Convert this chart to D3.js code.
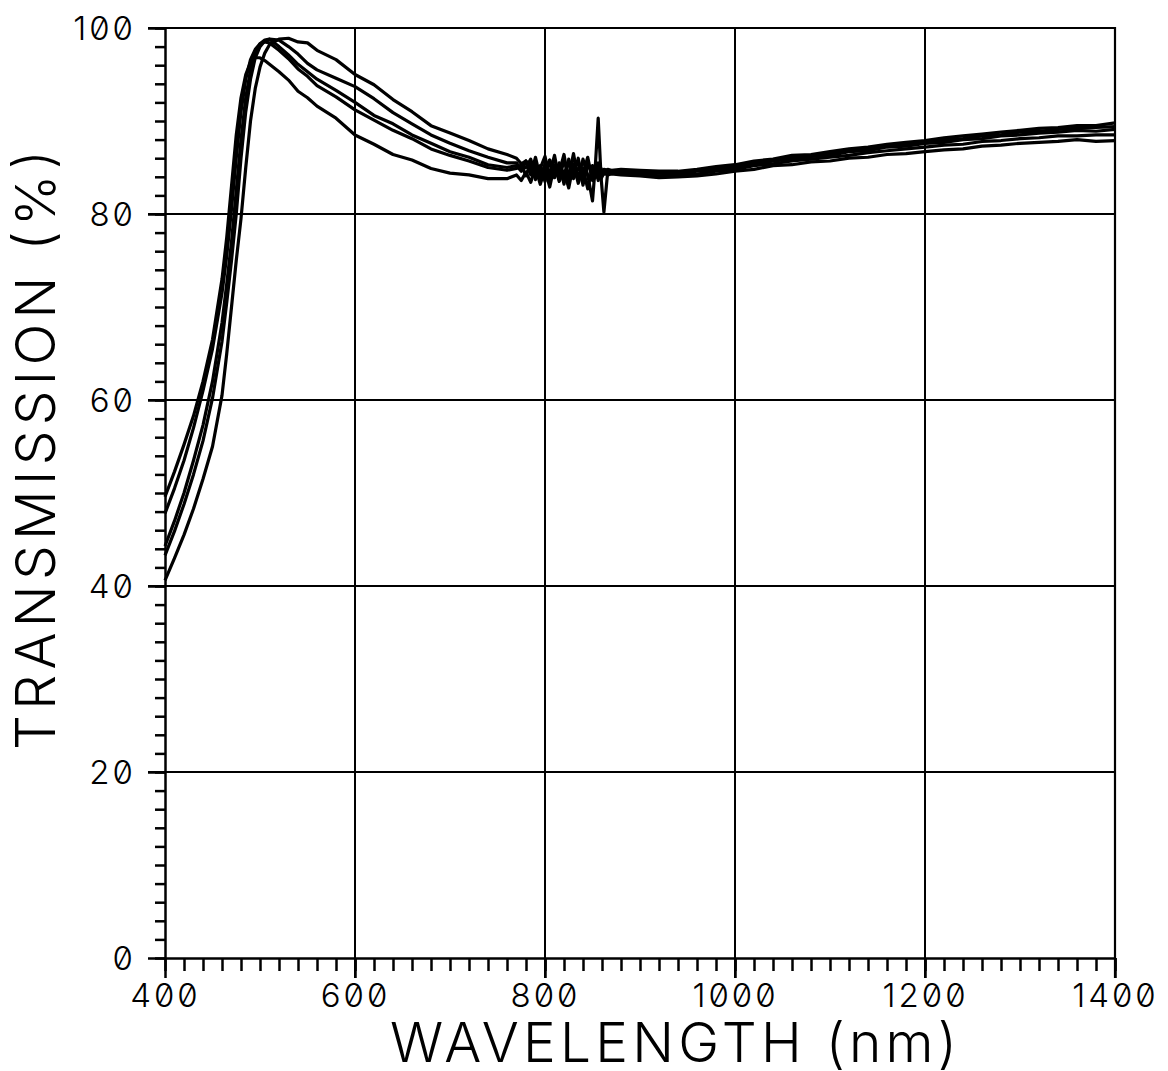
<!DOCTYPE html>
<html>
<head>
<meta charset="utf-8">
<script src="https://cdn.jsdelivr.net/npm/d3@7"></script>
<style>
  body { margin: 0; background: #fff; }
  svg { display: block; }
  .lbl { font-family: Inter, "DejaVu Sans", sans-serif; font-weight: 300; font-feature-settings: "zero" 1; fill: #000; }
</style>
</head>
<body>
<div id="chart"></div>
<script>
// wavelengths (nm), shared by all five spectra
var wavelength = [400,410,420,430,440,450,460,465,470,475,480,485,490,495,500,505,510,520,530,540,550,560,
  580,600,620,640,660,680,700,720,740,760,770,775,780,785,790,795,800,805,810,815,820,825,830,835,840,845,850,
  853,856,859,862,866,870,880,900,920,940,960,980,1000,1020,1040,1060,1080,1100,1120,1140,1160,1180,1200,
  1220,1240,1260,1280,1300,1320,1340,1360,1380,1400];

// transmission (%) of each sample
var seriesA = [49.6,52.3,55.2,58.3,62.0,66.5,73.0,77.5,83.0,88.5,92.5,95.0,96.3,96.8,96.8,96.5,96.1,95.3,94.4,93.2,92.5,91.6,
  90.3,88.5,87.5,86.4,85.8,84.9,84.4,84.2,83.8,83.8,
  84.2,83.6,84.5,83.4,85.0,83.2,84.8,82.9,85.3,83.5,84.6,82.8,85.4,83.3,84.9,82.7,85.2,84.0,85.1,83.8,84.4,84.2,84.3,
  84.2,84.1,83.9,84.0,84.1,84.3,84.6,84.8,85.2,85.3,85.6,85.7,86.0,86.1,86.4,86.5,86.7,86.9,87.0,87.3,87.4,87.6,87.7,87.8,88.0,87.8,87.9];
var seriesB = [47.8,50.5,53.5,57.0,61.0,65.5,71.5,75.5,80.5,86.0,91.0,94.5,96.6,97.7,98.3,98.5,98.4,97.6,96.7,95.6,94.8,93.8,
  92.6,91.2,90.1,89.0,88.1,87.0,86.3,85.7,85.0,84.7,
  84.9,85.3,84.1,85.6,83.7,85.2,83.5,85.8,83.9,85.5,83.2,85.9,84.1,86.0,83.4,85.6,83.9,85.3,83.6,84.9,84.3,84.6,84.4,
  84.4,84.3,84.1,84.2,84.3,84.6,84.8,85.2,85.4,85.7,85.9,86.1,86.3,86.6,86.8,87.0,87.2,87.4,87.5,87.8,87.9,88.1,88.2,88.4,88.4,88.5,88.5];
var seriesC = [44.3,47.0,50.0,53.5,57.3,62.0,68.3,72.5,77.0,82.5,88.0,92.5,95.5,97.3,98.3,98.7,98.8,98.0,97.1,96.1,95.3,94.5,
  93.3,92.0,90.6,89.7,88.5,87.6,86.7,86.1,85.3,85.0,
  85.2,84.6,85.7,84.2,86.1,83.9,85.4,84.3,86.3,83.7,85.8,84.0,86.5,83.6,85.9,84.2,81.4,85.2,90.3,84.0,80.2,84.5,84.6,
  84.6,84.5,84.4,84.3,84.6,84.7,85.1,85.3,85.7,85.9,86.2,86.3,86.7,86.8,87.2,87.3,87.6,87.7,88.0,88.1,88.4,88.5,88.7,88.8,89.0,88.9,89.1];
var seriesD = [43.3,45.9,48.8,52.0,55.6,60.2,66.3,70.5,75.0,80.0,86.0,91.0,94.5,96.8,98.0,98.6,98.8,98.7,98.0,97.2,96.2,95.5,
  94.6,93.7,92.4,90.9,89.7,88.5,87.6,86.8,86.1,85.5,
  85.5,84.8,85.0,85.9,84.2,84.9,86.2,83.8,85.1,84.5,86.4,83.5,84.8,85.7,83.1,85.3,84.6,83.9,85.0,84.4,84.8,84.7,84.5,
  84.7,84.6,84.4,84.5,84.7,84.9,85.2,85.5,85.7,86.1,86.2,86.5,86.8,87.0,87.3,87.5,87.7,88.0,88.1,88.4,88.5,88.8,88.9,89.1,89.2,89.3,89.4];
var seriesE = [40.6,43.0,45.5,48.3,51.5,55.0,60.5,65.0,70.0,75.0,79.5,85.0,90.0,93.5,95.8,97.3,98.2,98.8,98.9,98.5,98.4,97.6,
  96.6,95.0,93.9,92.3,91.0,89.5,88.7,87.9,87.0,86.4,
  86.0,85.4,85.7,84.7,85.5,84.4,84.9,85.8,84.0,85.2,84.3,85.6,83.8,84.9,84.4,86.1,83.6,84.8,85.5,83.9,84.6,84.8,84.7,
  84.8,84.7,84.6,84.6,84.8,85.1,85.3,85.7,85.9,86.3,86.4,86.7,87.0,87.2,87.5,87.7,87.9,88.2,88.4,88.6,88.8,89.0,89.2,89.3,89.5,89.5,89.8];

var allSeries = [seriesA, seriesB, seriesC, seriesD, seriesE];

var xMajor = [400, 600, 800, 1000, 1200, 1400];
var yMajor = [0, 20, 40, 60, 80, 100];

var width = 1168, height = 1071,
    margin = {top: 28, right: 53, bottom: 113, left: 165},
    plotLeft = margin.left, plotRight = width - margin.right,
    plotTop = margin.top, plotBottom = height - margin.bottom;

var svg = d3.select("#chart").append("svg")
  .attr("width", width)
  .attr("height", height);

svg.append("rect").attr("width", width).attr("height", height).attr("fill", "#fff");

var xScale = d3.scaleLinear().domain([400, 1400]).range([plotLeft, plotRight]);
var yScale = d3.scaleLinear().domain([0, 100]).range([plotBottom, plotTop]);

// grid lines
svg.append("g")
  .selectAll("line")
  .data(yMajor.filter(function (d) { return d > 0 && d < 100; }))
  .enter().append("line")
  .attr("x1", plotLeft - 17).attr("x2", plotRight)
  .attr("y1", function (d) { return yScale(d); })
  .attr("y2", function (d) { return yScale(d); })
  .attr("stroke", "#000").attr("stroke-width", 2.2);

svg.append("g")
  .selectAll("line")
  .data(xMajor.filter(function (d) { return d > 400 && d < 1400; }))
  .enter().append("line")
  .attr("y1", plotTop).attr("y2", plotBottom + 20)
  .attr("x1", function (d) { return xScale(d); })
  .attr("x2", function (d) { return xScale(d); })
  .attr("stroke", "#000").attr("stroke-width", 2);

// frame (top and right)
svg.append("path")
  .attr("d", "M" + (plotLeft - 17) + "," + plotTop + "H" + plotRight + "V" + (plotBottom + 20))
  .attr("fill", "none").attr("stroke", "#000").attr("stroke-width", 2.2);

// minor ticks
svg.append("g")
  .attr("transform", "translate(" + plotLeft + ",0)")
  .call(d3.axisLeft(yScale).tickValues(d3.range(0, 101, 2)).tickSize(10).tickSizeOuter(0).tickFormat(""))
  .call(function (g) { g.select(".domain").attr("stroke-width", 2.5); g.selectAll("line").attr("stroke-width", 2.5); });

svg.append("g")
  .attr("transform", "translate(0," + plotBottom + ")")
  .call(d3.axisBottom(xScale).tickValues(d3.range(400, 1401, 20)).tickSize(13).tickSizeOuter(0).tickFormat(""))
  .call(function (g) { g.select(".domain").attr("stroke-width", 2.5); g.selectAll("line").attr("stroke-width", 2.5); });

// major ticks with labels
var yAxis = svg.append("g")
  .attr("transform", "translate(" + plotLeft + ",0)")
  .call(d3.axisLeft(yScale).tickValues(yMajor).tickSize(17).tickPadding(12).tickFormat(d3.format("d")));
yAxis.select(".domain").remove();
yAxis.selectAll("line").attr("stroke-width", 2.5);
yAxis.selectAll("text").attr("class", "lbl").style("font-size", "33px").style("letter-spacing", "3px")
  .attr("dy", "0.36em");

var xAxis = svg.append("g")
  .attr("transform", "translate(0," + plotBottom + ")")
  .call(d3.axisBottom(xScale).tickValues(xMajor).tickSize(20).tickPadding(6).tickFormat(d3.format("d")));
xAxis.select(".domain").remove();
xAxis.selectAll("line").attr("stroke-width", 2.5);
xAxis.selectAll("text").attr("class", "lbl").style("font-size", "33px").style("letter-spacing", "3px");

// spectra
var line = d3.line()
  .x(function (d, i) { return xScale(wavelength[i]); })
  .y(function (d) { return yScale(d); });

svg.append("g")
  .selectAll("path")
  .data(allSeries)
  .enter().append("path")
  .attr("d", line)
  .attr("fill", "none")
  .attr("stroke", "#000")
  .attr("stroke-width", 3.2)
  .attr("stroke-linejoin", "round");

// axis titles
svg.append("text")
  .attr("class", "lbl")
  .attr("x", 390).attr("y", 1062)
  .attr("textLength", 567).attr("lengthAdjust", "spacing")
  .style("font-size", "55px")
  .text("WAVELENGTH (nm)");

svg.append("text")
  .attr("class", "lbl")
  .attr("transform", "translate(55,750) rotate(-90)")
  .attr("textLength", 600).attr("lengthAdjust", "spacing")
  .style("font-size", "55px")
  .text("TRANSMISSION (%)");
</script>
</body>
</html>
